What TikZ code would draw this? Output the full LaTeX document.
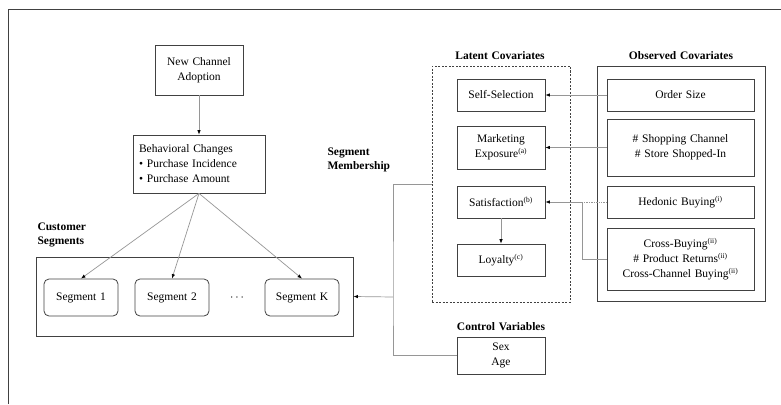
\documentclass[tikz,border=0pt]{standalone}
\usepackage{fontspec}
\setmainfont[WordSpace={1.3}]{Liberation Serif}
\usetikzlibrary{arrows.meta}
\definecolor{boxgray}{RGB}{65,65,65}
\definecolor{linegray}{RGB}{150,150,150}
\newcommand{\sups}[1]{\textsuperscript{\fontsize{7.5}{7.5}\selectfont(#1)}}

\begin{document}
\begin{tikzpicture}[x=1pt, y=-1pt,
  font=\fontsize{11.5}{15}\selectfont,
  box/.style={draw=boxgray, line width=0.8pt, minimum width=88pt, minimum height=32pt, align=center, inner sep=2pt},
  segbox/.style={box, rounded corners=5pt, minimum width=74pt, minimum height=37pt},
  obsbox/.style={box, minimum width=147pt},
  title/.style={font=\fontsize{11.5}{14.5}\selectfont\bfseries, align=left},
  link/.style={draw=linegray, line width=0.7pt},
  arr/.style={link, -{Latex[length=4.5pt, width=3.5pt, color=black]}}]
\useasboundingbox (0,0) rectangle (781,404);
\draw[boxgray, line width=0.8pt] (8,404) -- (8,9) -- (781,9);

% Adoption and behaviour
\node[box, minimum height=50pt] (nca) at (199,70) {New Channel\\Adoption};
\node[box, minimum width=132pt, minimum height=58pt, text width=120pt, align=left, inner sep=6pt] (bc) at (199,164)
  {Behavioral Changes\\\textbullet\ Purchase Incidence\\\textbullet\ Purchase Amount};

% Customer segments
\node[title, anchor=west] (cslbl) at (34,235) {Customer\\Segments};
\node[box, minimum width=317pt, minimum height=79pt] (segs) at (194.5,296.5) {};
\node[segbox] (seg1) at (81,297.5) {Segment 1};
\node[segbox] (seg2) at (172,297.5) {Segment 2};
\node (dots) at (237,297.5) {$\cdots$};
\node[segbox] (segK) at (302,297.5) {Segment K};

% Latent covariates
\node[title, anchor=west] (smlbl) at (324,160) {Segment\\Membership};
\node[title] (latlbl) at (500,56) {Latent Covariates};
\node[draw=boxgray, line width=0.9pt, dash pattern=on 2pt off 1.5pt, minimum width=138pt, minimum height=236pt] (lat) at (501,184) {};
\node[box] (ss) at (501,95) {Self-Selection};
\node[box, minimum height=43pt] (me) at (501,147.5) {Marketing\\Exposure\sups{a}};
\node[box] (sat) at (501,202) {Satisfaction\sups{b}};
\node[box] (loy) at (501,260) {Loyalty\sups{c}};

% Observed covariates
\node[title] (obslbl) at (681,56) {Observed Covariates};
\node[draw=boxgray, line width=0.9pt, minimum width=168pt, minimum height=235pt] (obs) at (681,183.5) {};
\node[obsbox] (os) at (680.5,95) {Order Size};
\node[obsbox, minimum height=57pt] (sc) at (680.5,147.5) {\# Shopping Channel\\\# Store Shopped-In};
\node[obsbox] (hb) at (680.5,202) {Hedonic Buying\sups{i}};
\node[obsbox, minimum height=62pt] (cb) at (680.5,259) {Cross-Buying\sups{ii}\\\# Product Returns\sups{ii}\\Cross-Channel Buying\sups{ii}};

% Control variables
\node[title] (ctllbl) at (501,327) {Control Variables};
\node[box, minimum height=37pt] (sa) at (501,355.5) {Sex\\Age};

% Connectors
\coordinate (mb) at (393,297);
\coordinate (jn) at (582,202);
\draw[arr] (nca) -- (bc);
\draw[arr] (bc.south) -- (seg1.north);
\draw[arr] (bc.south) -- (seg2.north);
\draw[arr] (bc.south) -- (segK.north);
\draw[link] (lat.west) -| (mb) |- (sa.west);
\draw[arr] (mb) -- (segs.east);
\draw[arr] (os.west) -- (ss.east);
\draw[arr] (sc.west |- me.east) -- (me.east);
\draw[link, densely dotted] (hb.west) -- (jn);
\draw[arr] (cb.west) -| (jn) -- (sat.east);
\draw[arr] (sat) -- (loy);
\end{tikzpicture}
\end{document}
